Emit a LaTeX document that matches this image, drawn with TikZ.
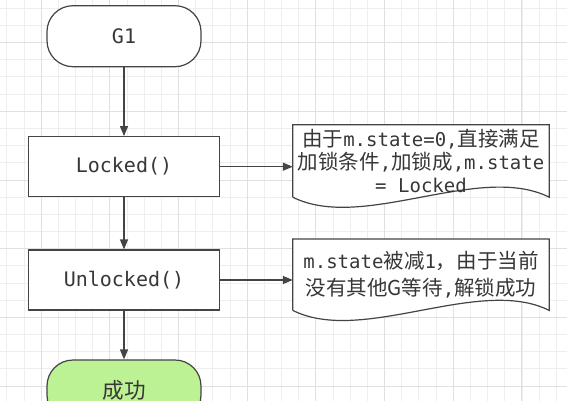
\documentclass[tikz,border=0pt]{standalone}
\usepackage{fontspec}
\setmainfont{DejaVu Sans Mono}
\newfontfamily\cjk[Scale=1.08]{Noto Sans CJK SC}
\usetikzlibrary{arrows.meta}
\usetikzlibrary{backgrounds}

\definecolor{linegray}{RGB}{68,68,68}
\definecolor{textgray}{RGB}{55,55,55}
\definecolor{gridminor}{RGB}{238,238,238}
\definecolor{gridmajor}{RGB}{224,224,224}
\definecolor{okgreen}{RGB}{188,242,148}

\tikzset{
  flow/.style={draw=linegray, line width=1.2pt, fill=white, text=textgray,
    font=\fontsize{20}{24}\selectfont},
  terminal/.style={flow, rounded corners=26pt, minimum width=154pt, minimum height=61pt},
  procbox/.style={flow, minimum width=191pt, minimum height=60pt},
  notebox/.style={text=textgray, minimum width=256pt, align=center, inner sep=0pt},
  docline/.style={draw=linegray, line width=1.2pt, fill=white},
  arr/.style={draw=linegray, line width=1.2pt, -{Triangle[length=10pt,width=8pt]}}
}

\begin{document}
\begin{tikzpicture}[x=1pt,y=-1pt]
\useasboundingbox (0,0) rectangle (567,401);
\clip (0,0) rectangle (567,401);

% grid
\begin{scope}[on background layer]
\fill[white] (0,0) rectangle (567,401);
\foreach \k in {0,...,33} {
  \draw[gridminor, line width=1pt] (6.9+17.17*\k,0) -- (6.9+17.17*\k,401);
}
\foreach \k in {0,...,23} {
  \draw[gridminor, line width=1pt] (0,8.3+17.17*\k) -- (567,8.3+17.17*\k);
}
\foreach \k in {0,...,7} {
  \draw[gridmajor, line width=1pt] (41.2+68.68*\k,0) -- (41.2+68.68*\k,401);
}
\foreach \k in {0,...,5} {
  \draw[gridmajor, line width=1pt] (0,42.7+68.68*\k) -- (567,42.7+68.68*\k);
}
\end{scope}

% flow
\node[terminal] (g1) at (124,36.2) {G1};
\node[procbox] (locked) at (124,166.7) {Locked()};
\node[procbox] (unlocked) at (124,280) {Unlocked()};
\node[terminal, fill=okgreen] (ok) at (124,390.5) {\cjk 成功};

% notes
\node[notebox, minimum height=72pt, font=\fontsize{19}{23.3}\selectfont] (note1) at (421,161)
  {{\cjk 由于}m.state=0,{\cjk 直接满足}\\{\cjk 加锁条件},{\cjk 加锁成},m.state\\= Locked};
\node[notebox, minimum height=71pt, font=\fontsize{19}{26.7}\selectfont] (note2) at (421,274.7)
  {m.state{\cjk 被减}1{\cjk ，由于当前}\\{\cjk 没有其他G等待},{\cjk 解锁成功}};

\begin{scope}[on background layer]
\draw[docline] (note1.south west) -- (note1.north west) -- (note1.north east) -- (note1.south east)
  .. controls +(-70,-35) and +(70,35) .. (note1.south west);
\draw[docline] (note2.south west) -- (note2.north west) -- (note2.north east) -- (note2.south east)
  .. controls +(-70,-35) and +(70,35) .. (note2.south west);
\end{scope}

\draw[arr] (g1) -- (locked);
\draw[arr] (locked) -- (unlocked);
\draw[arr] (unlocked) -- (ok);
\draw[arr] (locked.east) -- (note1.west |- locked.east);
\draw[arr] (unlocked.east) -- (note2.west |- unlocked.east);
\end{tikzpicture}
\end{document}
